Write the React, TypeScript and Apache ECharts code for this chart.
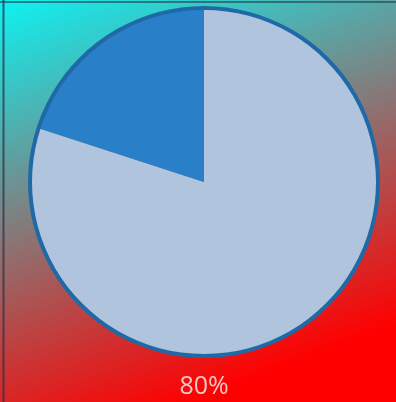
import React, { useEffect, useRef } from "react";
import * as echarts from "echarts";

const categories = ["Filled", "Remaining"];
const values = [80, 20];
const sliceColors = ["#b0c4de", "#2a80c8"];

export default function App() {
  const ref = useRef<HTMLDivElement>(null);
  useEffect(() => {
    document.body.style.margin = "0";
    const chart = echarts.init(ref.current!, undefined, { renderer: "svg" });
    const total = values.reduce((a, b) => a + b, 0);
    const pct = Math.round((values[0] / total) * 100) + "%";
    chart.setOption({
      animation: false,
      graphic: [
        {
          type: "rect",
          z: -10,
          silent: true,
          shape: { x: 0, y: 0, width: 396, height: 402 },
          style: {
            fill: {
              type: "linear",
              x: 0,
              y: -25,
              x2: 166,
              y2: 412,
              global: true,
              colorStops: [
                { offset: 0, color: "#00ffff" },
                { offset: 1, color: "#ff0000" },
              ],
            },
          },
        },
        {
          type: "line",
          silent: true,
          shape: { x1: 3.5, y1: 0, x2: 3.5, y2: 402 },
          style: { stroke: "rgba(50,50,70,0.75)", lineWidth: 2 },
        },
        {
          type: "line",
          silent: true,
          shape: { x1: 0, y1: 2, x2: 396, y2: 2 },
          style: { stroke: "rgba(40,60,70,0.6)", lineWidth: 2 },
        },
        {
          type: "text",
          silent: true,
          x: 204,
          y: 384,
          style: {
            text: pct,
            fill: "#f7c6c6",
            font: "25px 'Open Sans', sans-serif",
            textAlign: "center",
            textVerticalAlign: "middle",
          },
        },
      ],
      series: [
        {
          type: "pie",
          center: [204, 182],
          radius: [0, 174],
          startAngle: 90,
          clockwise: true,
          silent: true,
          label: { show: false },
          labelLine: { show: false },
          itemStyle: { borderWidth: 0 },
          data: categories.map((name, i) => ({
            name,
            value: values[i],
            itemStyle: { color: sliceColors[i] },
          })),
        },
        {
          type: "pie",
          center: [204, 182],
          radius: [172, 176],
          silent: true,
          label: { show: false },
          labelLine: { show: false },
          itemStyle: { color: "#1f6aa6", borderWidth: 0 },
          data: [{ name: "rim", value: 1 }],
        },
      ],
    });
    return () => chart.dispose();
  }, []);
  return (
    <div
      ref={ref}
      style={{ position: "fixed", left: 0, top: 0, width: 396, height: 402 }}
    />
  );
}
